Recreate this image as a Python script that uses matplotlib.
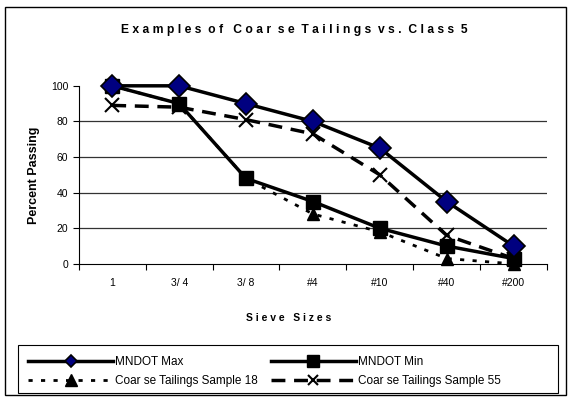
import matplotlib
matplotlib.use('Agg')
import matplotlib.pyplot as plt
from matplotlib.patches import Rectangle

plt.rcParams['font.family'] = ['Liberation Sans', 'DejaVu Sans']

sieves = ['1', '3/ 4', '3/ 8', '#4', '#10', '#40', '#200']
mndot_max = [100, 100, 90, 80, 65, 35, 10]
mndot_min = [100, 90, 48, 35, 20, 10, 3]
sample_18 = [100, 90, 48, 28, 18, 3, 0]
sample_55 = [89, 88, 81, 73, 50, 16, 3]

fig = plt.figure(figsize=(5.71, 4.01), dpi=100)
ax = fig.add_axes([0.138, 0.342, 0.82, 0.444])

x = list(range(len(sieves)))
ax.plot(x, sample_18, color='black', lw=2, ls=(0, (1.5, 3)), marker='^', ms=8,
        label='Coar se Tailings Sample 18', clip_on=False)
ax.plot(x, sample_55, color='black', lw=2.5, ls=(0, (4, 2.5)), marker='x', ms=10, mew=1.5,
        label='Coar se Tailings Sample 55', clip_on=False)
ax.plot(x, mndot_min, color='black', lw=2.5, marker='s', ms=10, label='MNDOT Min',
        clip_on=False)
ax.plot(x, mndot_max, color='black', lw=2.5, marker='D', ms=11, mfc='#000080', mec='black',
        mew=1.2, label='MNDOT Max', clip_on=False)

ax.set_xlim(-0.5, len(sieves) - 0.5)
ax.set_ylim(0, 100)
ax.set_yticks([0, 20, 40, 60, 80, 100])
ax.set_xticks([i - 0.5 for i in range(len(sieves) + 1)], minor=False)
ax.set_xticklabels([])
ax.set_xticks(x, minor=True)
ax.set_xticklabels(sieves, minor=True)
ax.tick_params(axis='x', which='minor', length=0, pad=10, labelsize=7.5)
ax.tick_params(axis='x', which='major', length=4, direction='out', width=0.8)
ax.tick_params(axis='y', labelsize=7.5, length=4, direction='out', width=0.8)
for v in [20, 40, 60, 80]:
    ax.axhline(v, color='#333333', lw=0.9, zorder=0)
for s in ['top', 'right']:
    ax.spines[s].set_visible(False)

ax.set_ylabel('Percent Passing', fontsize=9, fontweight='bold', labelpad=8)
fig.text(0.505, 0.207, 'S i e v e   S i z e s', ha='center', va='center',
         fontsize=7.5, fontweight='bold')
fig.text(0.515, 0.925, 'E x a m p l e s  o f   C o a r  s e  T a i l i n g s  v s .  C l a s s  5',
         ha='center', va='center', fontsize=8.7, fontweight='bold')

# outer chart border
fig.add_artist(Rectangle((0.009, 0.015), 0.982, 0.968, transform=fig.transFigure,
                         fill=False, ec='black', lw=1))
# legend box
fig.add_artist(Rectangle((0.0315, 0.02), 0.946, 0.12, transform=fig.transFigure,
                         fill=False, ec='black', lw=0.8))

h, l = ax.get_legend_handles_labels()
order = [3, 0, 2, 1]
leg = fig.legend([h[i] for i in order], [l[i] for i in order], ncol=2,
                 loc='lower left', bbox_to_anchor=(0.03, 0.006),
                 fontsize=8.5, handlelength=7.2, frameon=False,
                 borderpad=0.45, labelspacing=0.6, handletextpad=0.15,
                 columnspacing=1.1)
sizes = [6, 9, 8, 7]
for lh, sz in zip(leg.legend_handles, sizes):
    lh.set_markersize(sz)

fig.savefig('out.png', dpi=100)
